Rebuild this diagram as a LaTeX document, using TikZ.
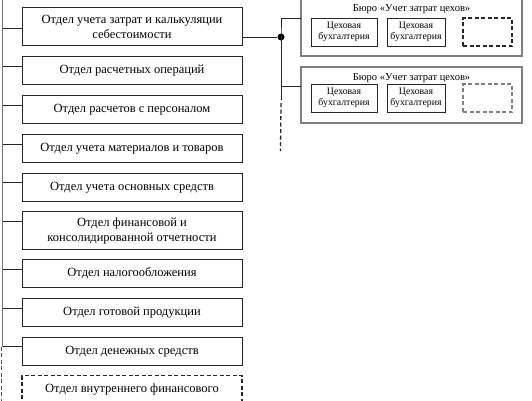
\documentclass[tikz,border=0pt]{standalone}
\usepackage{fontspec}
\setmainfont{Liberation Serif}
\usetikzlibrary{positioning}

\begin{document}
\begin{tikzpicture}[
x=1pt, y=-1pt,
node distance=11pt and 10pt,
every node/.style={font=\fontsize{12.5}{15}\selectfont},
dept/.style={draw=black!85, line width=1pt, outer sep=0pt, align=center, minimum width=220pt, minimum height=28pt, inner sep=2pt},
tall/.style={minimum height=38.5pt},
bureau/.style={draw=black!50, line width=1.4pt, outer sep=0pt, minimum width=221pt, minimum height=56pt},
burtitle/.style={font=\fontsize{10.5}{12}\selectfont},
shop/.style={draw=black!85, line width=0.9pt, outer sep=0pt, align=center, minimum height=28pt, inner sep=1pt, font=\fontsize{9.8}{10.5}\selectfont},
spare/.style={shop, line width=1.2pt, dash pattern=on 4pt off 2.5pt, minimum width=49pt},
link/.style={draw=black!85, line width=0.9pt},
bus/.style={draw=black!55, line width=1.3pt},
jdot/.style={circle, fill=black, inner sep=0pt, minimum size=7pt}
]
\useasboundingbox (0,0) rectangle (532,400);

% departments
\node[dept, tall] (b1) at (132,26.5) {Отдел учета затрат и калькуляции\\себестоимости};
\node[dept, below=of b1] (b2) {Отдел расчетных операций};
\node[dept, below=of b2] (b3) {Отдел расчетов с персоналом};
\node[dept, below=of b3] (b4) {Отдел учета материалов и товаров};
\node[dept, below=of b4] (b5) {Отдел учета основных средств};
\node[dept, tall, below=9.5pt of b5] (b6) {Отдел финансовой и\\консолидированной отчетности};
\node[dept, below=9.5pt of b6] (b7) {Отдел налогообложения};
\node[dept, below=11.5pt of b7] (b8) {Отдел готовой продукции};
\node[dept, below=of b8] (b9) {Отдел денежных средств};
\node[dept, line width=1.2pt, dash pattern=on 4pt off 2.5pt, below=10pt of b9] (b10) {Отдел внутреннего финансового};

% bureaus
\node[bureau, minimum height=58pt] (bur1) at (411.5,27) {};
\node[burtitle] (t1) at ([yshift=-11.5pt]bur1.north) {Бюро «Учет затрат цехов»};
\node[shop, minimum width=66pt, above right=10pt and 10pt of bur1.south west] (s1a) {Цеховая\\бухгалтерия};
\node[shop, minimum width=58pt, right=of s1a] (s1b) {Цеховая\\бухгалтерия};
\node[spare, right=18pt of s1b] (s1c) {};

\node[bureau] (bur2) at (411.5,95) {};
\node[burtitle] (t2) at ([yshift=-11.5pt]bur2.north) {Бюро «Учет затрат цехов»};
\node[shop, minimum width=66pt, above right=11pt and 10pt of bur2.south west] (s2a) {Цеховая\\бухгалтерия};
\node[shop, minimum width=58pt, right=of s2a] (s2b) {Цеховая\\бухгалтерия};
\node[spare, draw=black!50, right=18pt of s2b] (s2c) {};

% left bus
\coordinate (ltop) at (2.5,-2);
\coordinate (lend) at (1.8,402);
\foreach \n/\s in {1/-1.5,2/4,3/4,4/4,5/5,6/9.5,7/4,8/4,9/5} {
  \coordinate (c\n) at ([yshift=\s pt]b\n.west);
  \draw[link] (c\n -| ltop) -- (c\n);
}
\draw[bus] (ltop) -- (c9 -| ltop);
\draw[link, draw=black!70, line width=1.1pt, dash pattern=on 4pt off 2.5pt] (c9 -| lend) -- (lend);

% right bus
\node[jdot] (jn) at (281,37) {};
\coordinate (rmid) at (281,100);
\coordinate (rend) at (280.5,151);
\draw[link] (b1.east |- jn) -- (jn);
\draw[link] ([yshift=9pt]bur1.west) -| (jn.center) |- ([yshift=9pt]bur2.west);
\draw[link] (jn.center) -- (rmid);
\draw[link, line width=1.3pt, dash pattern=on 4pt off 2.5pt] ([yshift=-3pt]rmid) -- (rend);
\end{tikzpicture}
\end{document}
